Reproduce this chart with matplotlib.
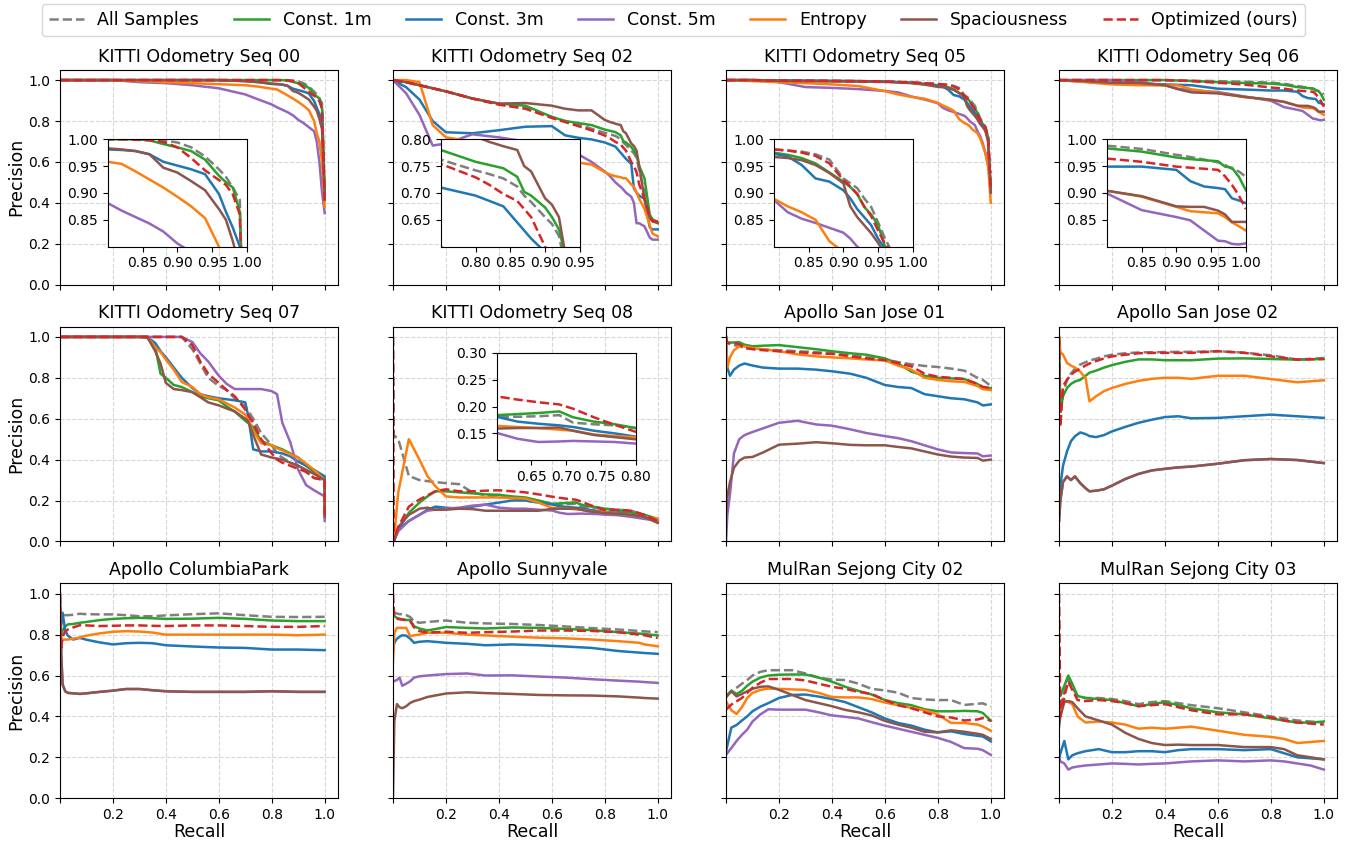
import matplotlib
matplotlib.use('Agg')
import matplotlib.pyplot as plt
from matplotlib.ticker import FormatStrFormatter

# ---- KITTI Seq 00 ----
seq00_recall = [0, 0.2, 0.3, 0.4, 0.5, 0.6, 0.7, 0.75, 0.8, 0.82, 0.84, 0.86, 0.88, 0.9, 0.92, 0.94, 0.96, 0.97, 0.98, 0.99, 1.0]
seq00_all = [1, 1, 1, 1, 1, 1, 1, 1, 1, 1, 1, 1, 0.998, 0.994, 0.985, 0.968, 0.944, 0.93, 0.91, 0.887, 0.42]
seq00_1m = [1, 1, 1, 1, 1, 1, 1, 1, 1, 1, 1, 0.998, 0.991, 0.985, 0.978, 0.962, 0.932, 0.92, 0.91, 0.865, 0.45]
seq00_3m = [1, 1, 1, 1, 1, 1, 0.995, 0.99, 0.981, 0.98, 0.978, 0.972, 0.958, 0.951, 0.944, 0.935, 0.898, 0.865, 0.835, 0.80, 0.42]
seq00_5m = [1, 1, 0.99, 0.985, 0.975, 0.96, 0.93, 0.905, 0.881, 0.867, 0.855, 0.843, 0.828, 0.806, 0.79, 0.77, 0.75, 0.70, 0.60, 0.45, 0.35]
seq00_ent = [1, 1, 0.995, 0.99, 0.985, 0.98, 0.975, 0.968, 0.958, 0.954, 0.94, 0.925, 0.91, 0.893, 0.875, 0.853, 0.80, 0.74, 0.70, 0.60, 0.38]
seq00_spa = [1, 1, 1, 1, 1, 1, 0.995, 0.99, 0.983, 0.981, 0.978, 0.972, 0.947, 0.938, 0.922, 0.905, 0.87, 0.85, 0.81, 0.76, 0.42]
seq00_opt = [1, 1, 1, 1, 1, 1, 1, 1, 1, 1, 0.999, 0.998, 0.995, 0.985, 0.965, 0.942, 0.924, 0.915, 0.897, 0.86, 0.40]

# ---- KITTI Seq 02 ----
seq02_recall = [0, 0.05, 0.1, 0.15, 0.2, 0.3, 0.4, 0.5, 0.6, 0.65, 0.7, 0.75, 0.8, 0.82, 0.84, 0.86, 0.87, 0.88, 0.9, 0.91, 0.92, 0.93, 0.95, 0.97, 0.98, 1.0]
seq02_all = [1.0, 0.99, 0.975, 0.96, 0.945, 0.91, 0.882, 0.865, 0.82, 0.80, 0.785, 0.762, 0.742, 0.735, 0.727, 0.712, 0.695, 0.683, 0.655, 0.642, 0.62, 0.56, 0.45, 0.34, 0.31, 0.31]
seq02_1m = [1.0, 0.99, 0.975, 0.96, 0.945, 0.91, 0.885, 0.875, 0.82, 0.80, 0.79, 0.78, 0.758, 0.752, 0.746, 0.73, 0.702, 0.695, 0.673, 0.655, 0.632, 0.58, 0.52, 0.34, 0.32, 0.305]
seq02_3m = [1.0, 0.965, 0.905, 0.80, 0.745, 0.74, 0.755, 0.772, 0.775, 0.73, 0.718, 0.71, 0.695, 0.685, 0.675, 0.645, 0.63, 0.615, 0.59, 0.47, 0.45, 0.435, 0.42, 0.28, 0.27, 0.27]
seq02_5m = [1.0, 0.935, 0.83, 0.68, 0.69, 0.735, 0.72, 0.70, 0.67, 0.65, 0.637, 0.60, 0.553, 0.53, 0.50, 0.478, 0.465, 0.45, 0.43, 0.40, 0.30, 0.30, 0.285, 0.23, 0.22, 0.22]
seq02_ent = [1.0, 1.0, 0.99, 0.78, 0.72, 0.70, 0.68, 0.66, 0.63, 0.615, 0.597, 0.587, 0.55, 0.538, 0.53, 0.525, 0.52, 0.52, 0.49, 0.48, 0.45, 0.42, 0.37, 0.29, 0.25, 0.236]
seq02_spa = [1.0, 0.99, 0.975, 0.96, 0.945, 0.91, 0.885, 0.888, 0.875, 0.86, 0.852, 0.852, 0.805, 0.795, 0.787, 0.78, 0.75, 0.74, 0.69, 0.678, 0.655, 0.58, 0.42, 0.33, 0.31, 0.30]
seq02_opt = [1.0, 0.99, 0.975, 0.96, 0.945, 0.91, 0.88, 0.86, 0.815, 0.795, 0.775, 0.754, 0.729, 0.715, 0.698, 0.685, 0.67, 0.655, 0.60, 0.58, 0.55, 0.49, 0.42, 0.33, 0.31, 0.31]

# ---- KITTI Seq 05 ----
seq05_recall = [0, 0.1, 0.2, 0.3, 0.4, 0.5, 0.6, 0.65, 0.7, 0.75, 0.8, 0.82, 0.84, 0.86, 0.88, 0.9, 0.91, 0.92, 0.93, 0.94, 0.95, 0.96, 0.97, 0.98, 0.99, 1.0]
seq05_all = [1, 1, 0.998, 0.997, 0.996, 0.995, 0.993, 0.991, 0.989, 0.985, 0.981, 0.979, 0.977, 0.972, 0.962, 0.927, 0.918, 0.909, 0.89, 0.874, 0.845, 0.815, 0.79, 0.77, 0.72, 0.45]
seq05_1m = [1, 1, 0.998, 0.997, 0.996, 0.995, 0.993, 0.99, 0.987, 0.982, 0.975, 0.971, 0.965, 0.955, 0.938, 0.921, 0.911, 0.898, 0.874, 0.86, 0.84, 0.80, 0.785, 0.765, 0.72, 0.46]
seq05_3m = [1, 1, 0.998, 0.997, 0.996, 0.995, 0.993, 0.99, 0.987, 0.98, 0.973, 0.968, 0.952, 0.927, 0.921, 0.905, 0.89, 0.87, 0.855, 0.84, 0.815, 0.795, 0.78, 0.755, 0.71, 0.45]
seq05_5m = [1, 1, 0.99, 0.966, 0.962, 0.956, 0.947, 0.94, 0.92, 0.905, 0.887, 0.864, 0.852, 0.844, 0.835, 0.826, 0.815, 0.80, 0.79, 0.78, 0.75, 0.726, 0.69, 0.644, 0.58, 0.55]
seq05_ent = [1, 0.995, 0.99, 0.985, 0.979, 0.971, 0.946, 0.93, 0.918, 0.909, 0.889, 0.875, 0.864, 0.85, 0.81, 0.79, 0.785, 0.775, 0.76, 0.75, 0.74, 0.715, 0.68, 0.64, 0.58, 0.40]
seq05_spa = [1, 1, 0.996, 0.995, 0.994, 0.993, 0.991, 0.989, 0.985, 0.978, 0.967, 0.965, 0.961, 0.952, 0.937, 0.918, 0.875, 0.855, 0.84, 0.825, 0.807, 0.785, 0.77, 0.75, 0.70, 0.45]
seq05_opt = [1, 1, 0.998, 0.997, 0.996, 0.995, 0.993, 0.991, 0.989, 0.985, 0.981, 0.979, 0.975, 0.969, 0.955, 0.924, 0.912, 0.898, 0.875, 0.857, 0.83, 0.805, 0.79, 0.77, 0.72, 0.46]

# ---- KITTI Seq 06 ----
seq06_recall = [0, 0.1, 0.2, 0.3, 0.4, 0.45, 0.5, 0.6, 0.7, 0.8, 0.85, 0.9, 0.92, 0.94, 0.96, 0.97, 0.98, 0.99, 1.0]
seq06_all = [1, 1, 1, 1, 1, 0.998, 0.997, 0.995, 0.992, 0.988, 0.982, 0.971, 0.967, 0.962, 0.957, 0.952, 0.945, 0.94, 0.93]
seq06_1m = [1, 1, 1, 1, 1, 0.998, 0.996, 0.99, 0.986, 0.983, 0.977, 0.966, 0.963, 0.961, 0.959, 0.949, 0.947, 0.93, 0.905]
seq06_3m = [1, 0.992, 0.984, 0.982, 0.979, 0.977, 0.975, 0.958, 0.954, 0.949, 0.949, 0.943, 0.922, 0.912, 0.909, 0.907, 0.89, 0.886, 0.881]
seq06_5m = [1, 1, 1, 0.99, 0.975, 0.958, 0.95, 0.942, 0.92, 0.899, 0.868, 0.855, 0.849, 0.83, 0.811, 0.81, 0.805, 0.804, 0.806]
seq06_ent = [1, 0.99, 0.979, 0.975, 0.974, 0.974, 0.955, 0.938, 0.917, 0.904, 0.893, 0.874, 0.866, 0.864, 0.862, 0.855, 0.845, 0.838, 0.83]
seq06_spa = [1, 0.995, 0.987, 0.986, 0.975, 0.955, 0.94, 0.935, 0.918, 0.904, 0.894, 0.875, 0.874, 0.874, 0.867, 0.86, 0.846, 0.846, 0.846]
seq06_opt = [1, 1, 1, 1, 1, 0.998, 0.995, 0.987, 0.978, 0.964, 0.958, 0.949, 0.947, 0.945, 0.943, 0.931, 0.915, 0.895, 0.87]

# ---- KITTI Seq 07 ----
seq07_recall = [0, 0.1, 0.2, 0.3, 0.33, 0.36, 0.38, 0.4, 0.43, 0.46, 0.5, 0.53, 0.56, 0.6, 0.63, 0.66, 0.7, 0.71, 0.73, 0.76, 0.8, 0.82, 0.84, 0.87, 0.9, 0.93, 0.96, 1.0, 1.0]
seq07_all = [1, 1, 1, 1, 1, 1, 1, 1, 1, 1, 0.94, 0.87, 0.80, 0.76, 0.74, 0.70, 0.66, 0.64, 0.60, 0.53, 0.47, 0.43, 0.41, 0.385, 0.37, 0.34, 0.31, 0.30, 0.13]
seq07_1m = [1, 1, 1, 1, 0.995, 0.95, 0.82, 0.80, 0.765, 0.755, 0.73, 0.71, 0.70, 0.69, 0.66, 0.635, 0.59, 0.58, 0.56, 0.49, 0.47, 0.46, 0.45, 0.43, 0.41, 0.37, 0.34, 0.30, 0.15]
seq07_3m = [1, 1, 1, 1, 1.0, 0.97, 0.93, 0.90, 0.85, 0.80, 0.75, 0.72, 0.71, 0.70, 0.695, 0.69, 0.68, 0.62, 0.45, 0.44, 0.44, 0.435, 0.43, 0.416, 0.39, 0.37, 0.35, 0.318, 0.15]
seq07_5m = [1, 1, 1, 1, 1, 1, 1, 1, 1, 1.0, 0.975, 0.92, 0.88, 0.81, 0.77, 0.745, 0.745, 0.745, 0.745, 0.745, 0.735, 0.72, 0.58, 0.485, 0.35, 0.275, 0.25, 0.22, 0.10]
seq07_ent = [1, 1, 1, 1, 1.0, 0.95, 0.925, 0.89, 0.84, 0.78, 0.755, 0.72, 0.705, 0.695, 0.675, 0.655, 0.62, 0.60, 0.54, 0.48, 0.47, 0.455, 0.445, 0.425, 0.41, 0.38, 0.35, 0.30, 0.16]
seq07_spa = [1, 1, 1, 1, 1.0, 0.93, 0.87, 0.775, 0.745, 0.74, 0.73, 0.705, 0.68, 0.665, 0.65, 0.636, 0.60, 0.59, 0.52, 0.425, 0.41, 0.405, 0.40, 0.385, 0.37, 0.35, 0.33, 0.30, 0.12]
seq07_opt = [1, 1, 1, 1, 1, 1, 1, 1, 1, 1.0, 0.96, 0.88, 0.82, 0.775, 0.74, 0.71, 0.645, 0.62, 0.58, 0.50, 0.43, 0.40, 0.385, 0.37, 0.355, 0.34, 0.31, 0.30, 0.12]

# ---- KITTI Seq 08 ----
seq08_recall = [0, 0.003, 0.02, 0.06, 0.1, 0.13, 0.16, 0.2, 0.25, 0.3, 0.35, 0.4, 0.45, 0.5, 0.55, 0.6, 0.63, 0.66, 0.69, 0.71, 0.74, 0.77, 0.8, 0.85, 0.9, 0.95, 1.0]
seq08_all = [1.0, 0.52, 0.50, 0.32, 0.30, 0.295, 0.29, 0.285, 0.28, 0.24, 0.225, 0.22, 0.21, 0.2, 0.19, 0.181, 0.181, 0.182, 0.184, 0.17, 0.167, 0.165, 0.16, 0.155, 0.15, 0.13, 0.10]
seq08_1m = [0.0, 0.0, 0.06, 0.14, 0.19, 0.22, 0.245, 0.245, 0.24, 0.235, 0.23, 0.228, 0.22, 0.215, 0.2, 0.184, 0.186, 0.188, 0.191, 0.18, 0.172, 0.167, 0.16, 0.15, 0.14, 0.13, 0.11]
seq08_3m = [0.0, 0.0, 0.06, 0.10, 0.13, 0.155, 0.17, 0.165, 0.16, 0.17, 0.18, 0.19, 0.2, 0.2, 0.19, 0.181, 0.172, 0.168, 0.165, 0.162, 0.155, 0.15, 0.144, 0.14, 0.13, 0.12, 0.10]
seq08_5m = [0.0, 0.0, 0.05, 0.10, 0.13, 0.15, 0.155, 0.16, 0.165, 0.175, 0.18, 0.165, 0.16, 0.16, 0.155, 0.151, 0.14, 0.134, 0.135, 0.136, 0.135, 0.134, 0.131, 0.128, 0.12, 0.11, 0.10]
seq08_ent = [0.0, 0.0, 0.24, 0.50, 0.40, 0.32, 0.27, 0.22, 0.215, 0.215, 0.215, 0.215, 0.212, 0.21, 0.19, 0.164, 0.162, 0.16, 0.157, 0.155, 0.148, 0.145, 0.143, 0.135, 0.13, 0.12, 0.11]
seq08_spa = [0.0, 0.0, 0.07, 0.13, 0.16, 0.165, 0.155, 0.155, 0.16, 0.158, 0.15, 0.15, 0.15, 0.15, 0.15, 0.159, 0.16, 0.16, 0.161, 0.155, 0.147, 0.143, 0.139, 0.135, 0.13, 0.12, 0.09]
seq08_opt = [1.0, 0.0, 0.07, 0.17, 0.205, 0.225, 0.245, 0.255, 0.245, 0.245, 0.248, 0.25, 0.245, 0.24, 0.23, 0.219, 0.213, 0.208, 0.204, 0.196, 0.18, 0.166, 0.153, 0.155, 0.15, 0.13, 0.10]

# ---- Apollo San Jose 01 ----
sj01_recall = [0, 0.005, 0.015, 0.03, 0.05, 0.07, 0.1, 0.14, 0.2, 0.27, 0.34, 0.4, 0.47, 0.53, 0.6, 0.65, 0.7, 0.75, 0.8, 0.85, 0.9, 0.95, 0.97, 1.0]
sj01_all = [1.0, 0.97, 0.965, 0.96, 0.955, 0.946, 0.942, 0.938, 0.935, 0.93, 0.925, 0.92, 0.91, 0.9, 0.89, 0.877, 0.866, 0.858, 0.853, 0.845, 0.835, 0.80, 0.79, 0.76]
sj01_1m = [1.0, 0.97, 0.972, 0.973, 0.974, 0.962, 0.954, 0.957, 0.96, 0.95, 0.94, 0.93, 0.92, 0.913, 0.895, 0.87, 0.83, 0.81, 0.80, 0.797, 0.794, 0.77, 0.75, 0.75]
sj01_3m = [1.0, 0.85, 0.81, 0.84, 0.86, 0.87, 0.86, 0.85, 0.845, 0.845, 0.84, 0.832, 0.82, 0.80, 0.765, 0.755, 0.75, 0.72, 0.71, 0.70, 0.695, 0.68, 0.665, 0.67]
sj01_5m = [0.0, 0.13, 0.23, 0.43, 0.50, 0.52, 0.535, 0.553, 0.58, 0.59, 0.572, 0.566, 0.548, 0.53, 0.515, 0.505, 0.49, 0.47, 0.45, 0.435, 0.432, 0.43, 0.416, 0.42]
sj01_ent = [1.0, 0.85, 0.90, 0.935, 0.954, 0.954, 0.945, 0.94, 0.93, 0.915, 0.905, 0.90, 0.895, 0.89, 0.885, 0.86, 0.84, 0.80, 0.79, 0.783, 0.78, 0.76, 0.745, 0.74]
sj01_spa = [0.13, 0.22, 0.29, 0.36, 0.395, 0.41, 0.413, 0.435, 0.473, 0.478, 0.485, 0.48, 0.472, 0.47, 0.47, 0.462, 0.455, 0.44, 0.425, 0.415, 0.41, 0.408, 0.395, 0.40]
sj01_opt = [1.0, 0.97, 0.97, 0.97, 0.965, 0.946, 0.94, 0.935, 0.93, 0.925, 0.92, 0.917, 0.905, 0.895, 0.886, 0.872, 0.856, 0.82, 0.805, 0.80, 0.794, 0.77, 0.756, 0.75]

# ---- Apollo San Jose 02 ----
sj02_recall = [0, 0.005, 0.015, 0.03, 0.045, 0.06, 0.08, 0.1, 0.115, 0.14, 0.17, 0.2, 0.25, 0.3, 0.35, 0.4, 0.45, 0.5, 0.6, 0.7, 0.8, 0.9, 1.0]
sj02_all = [1.0, 0.62, 0.72, 0.79, 0.82, 0.845, 0.865, 0.876, 0.885, 0.893, 0.905, 0.913, 0.92, 0.924, 0.925, 0.926, 0.927, 0.927, 0.93, 0.923, 0.91, 0.889, 0.897]
sj02_1m = [1.0, 0.645, 0.71, 0.75, 0.77, 0.782, 0.79, 0.81, 0.825, 0.835, 0.85, 0.862, 0.878, 0.89, 0.89, 0.886, 0.886, 0.886, 0.894, 0.895, 0.892, 0.889, 0.892]
sj02_3m = [0.2, 0.27, 0.37, 0.44, 0.49, 0.514, 0.533, 0.525, 0.515, 0.51, 0.52, 0.538, 0.56, 0.58, 0.595, 0.608, 0.612, 0.602, 0.604, 0.612, 0.62, 0.612, 0.604]
sj02_5m = [0.1, 0.2, 0.29, 0.318, 0.30, 0.318, 0.285, 0.26, 0.245, 0.248, 0.255, 0.273, 0.305, 0.33, 0.347, 0.355, 0.362, 0.366, 0.38, 0.397, 0.403, 0.398, 0.383]
sj02_ent = [1.0, 0.925, 0.914, 0.873, 0.86, 0.85, 0.83, 0.80, 0.685, 0.71, 0.735, 0.75, 0.77, 0.785, 0.795, 0.80, 0.80, 0.795, 0.81, 0.81, 0.794, 0.778, 0.788]
sj02_spa = [0.1, 0.2, 0.29, 0.318, 0.30, 0.318, 0.285, 0.26, 0.245, 0.248, 0.255, 0.273, 0.305, 0.33, 0.347, 0.355, 0.362, 0.366, 0.38, 0.397, 0.403, 0.398, 0.383]
sj02_opt = [1.0, 0.56, 0.76, 0.79, 0.815, 0.83, 0.845, 0.86, 0.87, 0.882, 0.895, 0.905, 0.913, 0.92, 0.922, 0.922, 0.922, 0.922, 0.93, 0.922, 0.905, 0.889, 0.892]

# ---- Apollo ColumbiaPark ----
cp_recall = [0, 0.005, 0.01, 0.02, 0.03, 0.05, 0.075, 0.1, 0.15, 0.2, 0.25, 0.3, 0.35, 0.4, 0.5, 0.6, 0.7, 0.8, 0.9, 1.0]
cp_all = [0.85, 0.90, 0.90, 0.895, 0.895, 0.897, 0.902, 0.9, 0.899, 0.899, 0.895, 0.89, 0.89, 0.894, 0.9, 0.904, 0.895, 0.887, 0.886, 0.887]
cp_1m = [0.80, 0.80, 0.82, 0.84, 0.85, 0.852, 0.858, 0.862, 0.871, 0.877, 0.88, 0.882, 0.88, 0.877, 0.878, 0.882, 0.877, 0.869, 0.866, 0.866]
cp_3m = [0.78, 0.85, 0.907, 0.82, 0.795, 0.776, 0.784, 0.775, 0.762, 0.752, 0.758, 0.76, 0.758, 0.748, 0.742, 0.737, 0.735, 0.727, 0.727, 0.724]
cp_5m = [1.0, 0.70, 0.556, 0.523, 0.515, 0.513, 0.51, 0.513, 0.52, 0.526, 0.534, 0.534, 0.528, 0.523, 0.52, 0.52, 0.52, 0.523, 0.52, 0.52]
cp_ent = [0.78, 0.775, 0.775, 0.776, 0.776, 0.78, 0.786, 0.795, 0.806, 0.814, 0.817, 0.815, 0.81, 0.80, 0.80, 0.80, 0.80, 0.80, 0.797, 0.80]
cp_spa = [1.0, 0.70, 0.556, 0.523, 0.515, 0.513, 0.51, 0.513, 0.52, 0.526, 0.534, 0.534, 0.528, 0.523, 0.52, 0.52, 0.52, 0.523, 0.52, 0.52]
cp_opt = [1.0, 0.735, 0.79, 0.815, 0.825, 0.835, 0.846, 0.845, 0.842, 0.843, 0.845, 0.845, 0.843, 0.842, 0.845, 0.845, 0.842, 0.838, 0.838, 0.842]

# ---- Apollo Sunnyvale ----
sv_recall = [0, 0.005, 0.015, 0.025, 0.035, 0.05, 0.065, 0.08, 0.1, 0.13, 0.2, 0.28, 0.35, 0.45, 0.55, 0.65, 0.75, 0.85, 0.93, 0.95, 1.0]
sv_all = [0.91, 0.907, 0.903, 0.90, 0.90, 0.895, 0.886, 0.865, 0.858, 0.862, 0.869, 0.858, 0.855, 0.852, 0.847, 0.84, 0.832, 0.825, 0.818, 0.816, 0.812]
sv_1m = [0.89, 0.89, 0.882, 0.878, 0.874, 0.872, 0.871, 0.84, 0.83, 0.82, 0.837, 0.833, 0.83, 0.835, 0.833, 0.828, 0.822, 0.812, 0.805, 0.803, 0.796]
sv_3m = [0.72, 0.76, 0.78, 0.79, 0.797, 0.795, 0.78, 0.76, 0.765, 0.768, 0.76, 0.755, 0.748, 0.752, 0.748, 0.742, 0.735, 0.72, 0.712, 0.71, 0.706]
sv_5m = [0.57, 0.573, 0.578, 0.59, 0.55, 0.56, 0.572, 0.59, 0.596, 0.60, 0.607, 0.61, 0.60, 0.601, 0.595, 0.59, 0.582, 0.575, 0.57, 0.568, 0.564]
sv_ent = [0.67, 0.809, 0.833, 0.833, 0.833, 0.833, 0.792, 0.797, 0.80, 0.809, 0.809, 0.80, 0.796, 0.79, 0.785, 0.782, 0.776, 0.768, 0.76, 0.752, 0.743]
sv_spa = [0.0, 0.376, 0.46, 0.445, 0.44, 0.45, 0.466, 0.475, 0.482, 0.495, 0.512, 0.518, 0.514, 0.51, 0.505, 0.503, 0.502, 0.498, 0.492, 0.49, 0.487]
sv_opt = [1.0, 0.882, 0.878, 0.875, 0.874, 0.87, 0.866, 0.835, 0.817, 0.81, 0.814, 0.809, 0.812, 0.815, 0.82, 0.82, 0.818, 0.812, 0.80, 0.797, 0.784]

# ---- MulRan Sejong City 02 ----
sc02_recall = [0, 0.02, 0.04, 0.06, 0.08, 0.1, 0.13, 0.16, 0.2, 0.25, 0.3, 0.35, 0.4, 0.45, 0.5, 0.55, 0.6, 0.65, 0.7, 0.75, 0.8, 0.85, 0.9, 0.95, 0.97, 1.0]
sc02_all = [0.498, 0.523, 0.54, 0.56, 0.578, 0.60, 0.618, 0.626, 0.626, 0.626, 0.61, 0.59, 0.58, 0.578, 0.56, 0.535, 0.527, 0.516, 0.49, 0.483, 0.48, 0.48, 0.456, 0.462, 0.464, 0.448]
sc02_1m = [0.498, 0.526, 0.51, 0.525, 0.55, 0.57, 0.59, 0.60, 0.604, 0.605, 0.605, 0.59, 0.57, 0.545, 0.525, 0.507, 0.48, 0.465, 0.455, 0.435, 0.425, 0.425, 0.427, 0.425, 0.417, 0.379]
sc02_3m = [0.229, 0.345, 0.358, 0.38, 0.40, 0.425, 0.448, 0.465, 0.49, 0.505, 0.507, 0.497, 0.485, 0.47, 0.445, 0.42, 0.39, 0.368, 0.355, 0.335, 0.322, 0.327, 0.314, 0.305, 0.302, 0.278]
sc02_5m = [0.212, 0.245, 0.28, 0.31, 0.335, 0.375, 0.41, 0.435, 0.433, 0.433, 0.433, 0.42, 0.405, 0.398, 0.39, 0.372, 0.355, 0.34, 0.325, 0.31, 0.295, 0.275, 0.245, 0.242, 0.235, 0.212]
sc02_ent = [0.474, 0.43, 0.412, 0.445, 0.49, 0.515, 0.53, 0.536, 0.535, 0.532, 0.53, 0.515, 0.495, 0.493, 0.493, 0.485, 0.468, 0.455, 0.442, 0.43, 0.41, 0.368, 0.368, 0.36, 0.351, 0.33]
sc02_spa = [0.493, 0.523, 0.498, 0.51, 0.523, 0.535, 0.545, 0.547, 0.53, 0.505, 0.48, 0.465, 0.45, 0.432, 0.42, 0.405, 0.378, 0.36, 0.345, 0.325, 0.322, 0.332, 0.325, 0.315, 0.31, 0.29]
sc02_opt = [0.433, 0.458, 0.474, 0.49, 0.515, 0.54, 0.565, 0.583, 0.583, 0.583, 0.576, 0.56, 0.545, 0.535, 0.52, 0.51, 0.48, 0.455, 0.44, 0.42, 0.40, 0.395, 0.38, 0.385, 0.392, 0.379]

# ---- MulRan Sejong City 03 ----
sc03_recall = [0, 0.005, 0.02, 0.035, 0.05, 0.07, 0.1, 0.15, 0.2, 0.25, 0.3, 0.35, 0.4, 0.45, 0.5, 0.6, 0.7, 0.8, 0.85, 0.9, 0.95, 1.0]
sc03_all = [0.45, 0.45, 0.52, 0.58, 0.54, 0.50, 0.49, 0.49, 0.485, 0.475, 0.46, 0.47, 0.475, 0.465, 0.455, 0.44, 0.42, 0.40, 0.39, 0.38, 0.375, 0.37]
sc03_1m = [0.5, 0.5, 0.55, 0.60, 0.56, 0.50, 0.49, 0.485, 0.48, 0.465, 0.45, 0.46, 0.47, 0.455, 0.44, 0.42, 0.41, 0.39, 0.38, 0.37, 0.37, 0.375]
sc03_3m = [0.19, 0.22, 0.28, 0.19, 0.21, 0.22, 0.23, 0.24, 0.225, 0.225, 0.23, 0.23, 0.225, 0.235, 0.24, 0.24, 0.235, 0.24, 0.22, 0.20, 0.195, 0.19]
sc03_5m = [0.20, 0.18, 0.17, 0.14, 0.15, 0.155, 0.16, 0.165, 0.17, 0.168, 0.165, 0.168, 0.17, 0.175, 0.18, 0.185, 0.18, 0.185, 0.18, 0.17, 0.16, 0.14]
sc03_ent = [0.40, 0.44, 0.48, 0.47, 0.46, 0.40, 0.37, 0.375, 0.37, 0.36, 0.34, 0.345, 0.34, 0.345, 0.35, 0.33, 0.31, 0.30, 0.29, 0.27, 0.275, 0.28]
sc03_spa = [0.35, 0.40, 0.47, 0.475, 0.47, 0.44, 0.40, 0.38, 0.36, 0.32, 0.29, 0.27, 0.26, 0.262, 0.26, 0.26, 0.25, 0.25, 0.24, 0.21, 0.20, 0.19]
sc03_opt = [1.0, 0.40, 0.50, 0.57, 0.53, 0.48, 0.475, 0.48, 0.475, 0.465, 0.45, 0.455, 0.46, 0.445, 0.43, 0.41, 0.41, 0.395, 0.38, 0.37, 0.365, 0.36]

methods = ['All Samples', 'Const. 1m', 'Const. 3m', 'Const. 5m', 'Entropy', 'Spaciousness', 'Optimized (ours)']
colors = ['tab:gray', 'tab:green', 'tab:blue', 'tab:purple', 'tab:orange', 'tab:brown', 'tab:red']
styles = ['--', '-', '-', '-', '-', '-', '--']

# inset: (bounds in axes coords, xlim, ylim, xticks, yticks)
zoom_hi = ([0.172, 0.177, 0.5, 0.5], (0.8, 1.0), (0.8, 1.0), [0.85, 0.9, 0.95, 1.0], [0.85, 0.9, 0.95, 1.0])
zoom_02 = ([0.172, 0.177, 0.5, 0.5], (0.75, 0.95), (0.6, 0.8), [0.8, 0.85, 0.9, 0.95], [0.65, 0.7, 0.75, 0.8])
zoom_08 = ([0.373, 0.378, 0.5, 0.5], (0.6, 0.8), (0.1, 0.3), [0.65, 0.7, 0.75, 0.8], [0.15, 0.2, 0.25, 0.3])

panels = [
    ('KITTI Odometry Seq 00', seq00_recall, [seq00_all, seq00_1m, seq00_3m, seq00_5m, seq00_ent, seq00_spa, seq00_opt], zoom_hi),
    ('KITTI Odometry Seq 02', seq02_recall, [seq02_all, seq02_1m, seq02_3m, seq02_5m, seq02_ent, seq02_spa, seq02_opt], zoom_02),
    ('KITTI Odometry Seq 05', seq05_recall, [seq05_all, seq05_1m, seq05_3m, seq05_5m, seq05_ent, seq05_spa, seq05_opt], zoom_hi),
    ('KITTI Odometry Seq 06', seq06_recall, [seq06_all, seq06_1m, seq06_3m, seq06_5m, seq06_ent, seq06_spa, seq06_opt], zoom_hi),
    ('KITTI Odometry Seq 07', seq07_recall, [seq07_all, seq07_1m, seq07_3m, seq07_5m, seq07_ent, seq07_spa, seq07_opt], None),
    ('KITTI Odometry Seq 08', seq08_recall, [seq08_all, seq08_1m, seq08_3m, seq08_5m, seq08_ent, seq08_spa, seq08_opt], zoom_08),
    ('Apollo San Jose 01', sj01_recall, [sj01_all, sj01_1m, sj01_3m, sj01_5m, sj01_ent, sj01_spa, sj01_opt], None),
    ('Apollo San Jose 02', sj02_recall, [sj02_all, sj02_1m, sj02_3m, sj02_5m, sj02_ent, sj02_spa, sj02_opt], None),
    ('Apollo ColumbiaPark', cp_recall, [cp_all, cp_1m, cp_3m, cp_5m, cp_ent, cp_spa, cp_opt], None),
    ('Apollo Sunnyvale', sv_recall, [sv_all, sv_1m, sv_3m, sv_5m, sv_ent, sv_spa, sv_opt], None),
    ('MulRan Sejong City 02', sc02_recall, [sc02_all, sc02_1m, sc02_3m, sc02_5m, sc02_ent, sc02_spa, sc02_opt], None),
    ('MulRan Sejong City 03', sc03_recall, [sc03_all, sc03_1m, sc03_3m, sc03_5m, sc03_ent, sc03_spa, sc03_opt], None),
]

fig, axes = plt.subplots(3, 4, figsize=(13.47, 8.42), dpi=100, sharex=True, sharey=True)
fig.subplots_adjust(left=0.0445, right=0.9926, top=0.917, bottom=0.052, wspace=0.198, hspace=0.196)

for ax, (title, rec, curves, zoom) in zip(axes.flat, panels):
    for prec, name, c, ls in zip(curves, methods, colors, styles):
        ax.plot(rec, prec, linestyle=ls, color=c, lw=1.8, label=name)
    ax.set_title(title, fontsize=12.5)
    ax.grid(True, linestyle='--', alpha=0.5)
    ax.tick_params(labelsize=10)
    if zoom is not None:
        bounds, xl, yl, xt, yt = zoom
        ia = ax.inset_axes(bounds)
        for prec, c, ls in zip(curves, colors, styles):
            ia.plot(rec, prec, linestyle=ls, color=c, lw=1.8)
        ia.set_xlim(*xl)
        ia.set_ylim(*yl)
        ia.set_xticks(xt)
        ia.set_yticks(yt)
        ia.xaxis.set_major_formatter(FormatStrFormatter('%.2f'))
        ia.yaxis.set_major_formatter(FormatStrFormatter('%.2f'))
        ia.tick_params(labelsize=10)

axes[0, 0].set_xlim(0, 1.05)
axes[0, 0].set_ylim(0, 1.05)
axes[0, 0].set_xticks([0, 0.2, 0.4, 0.6, 0.8, 1.0], ['', '0.2', '0.4', '0.6', '0.8', '1.0'])
axes[0, 0].set_yticks([0, 0.2, 0.4, 0.6, 0.8, 1.0])

for ax in axes[:, 0]:
    ax.set_ylabel('Precision', fontsize=12.5, labelpad=2)
for ax in axes[-1]:
    ax.set_xlabel('Recall', fontsize=12.5, labelpad=1)

handles, labels = axes[0, 0].get_legend_handles_labels()
fig.legend(handles, labels, loc='upper center', ncol=7, fontsize=12.5, bbox_to_anchor=(0.5, 1.005))

fig.savefig('out.png', dpi=100)
